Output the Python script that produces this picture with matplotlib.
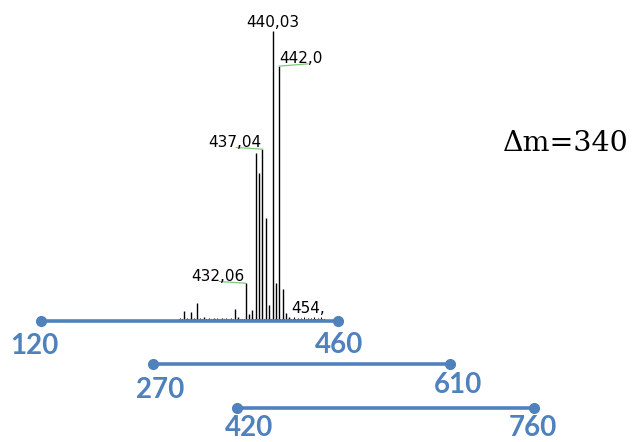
import matplotlib
matplotlib.use("Agg")
import matplotlib.pyplot as plt

# ---------------- data ----------------
# mass spectrum (m/z, relative intensity %)
peak_mz = [413.6, 415.7, 417.6, 419.7, 424.8, 428.8, 429.8,
           432, 433, 434, 435, 436, 437, 438, 439, 440, 441, 442, 443, 444, 445]
peak_int = [2.8, 2.3, 5.7, 0.8, 0.5, 3.4, 0.8,
            12.4, 1.7, 3.0, 57.7, 50.5, 58.9, 35.2, 4.8, 100, 12.4, 87.7, 10.5, 2.1, 0.8]
noise_mz = [412.5, 414.5, 416.5, 418.5, 421.0, 422.5, 423.5, 426.0, 427.5,
            446.5, 447.5, 448.5, 449.5, 450.5, 451.5, 452.5, 453.5, 454.5]
noise_int = [0.4, 0.5, 0.4, 0.5, 0.4, 0.5, 0.4, 0.5, 0.4,
             0.6, 0.5, 0.4, 0.6, 0.5, 0.4, 0.6, 0.5, 0.6]

label_mz = [432, 437, 440, 442, 454]
label_text = ["432,06", "437,04", "440,03", "442,0", "454,"]

# mass ranges (scan windows)
range_lo = [120, 270, 420]
range_hi = [460, 610, 760]
delta_text = "\u0394m=340"

# ---------------- layout ----------------
W, H = 635, 442
BLUE = "#4F81BD"
GREEN = "#7CCB7C"

fig = plt.figure(figsize=(W / 100, H / 100), dpi=100)

# spectrum axes (pixel window 178..326 horizontally, 0..322 vertically)
px_per_mz = 3.35
mz_at_px = lambda px: 432 + (px - 245.7) / px_per_mz
px_per_int = 2.883
ax_s = fig.add_axes([178 / W, (H - 322) / H, 148 / W, 322 / H])
ax_s.set_xlim(mz_at_px(178), mz_at_px(326))
ax_s.set_ylim(-3 / px_per_int, 319 / px_per_int)
ax_s.axis("off")

ax_s.vlines(peak_mz, 0, peak_int, color="black", linewidth=1.0)
ax_s.vlines(noise_mz, 0, noise_int, color="black", linewidth=0.7)
ax_s.plot([mz_at_px(179), mz_at_px(325)], [0, 0], color="black", linewidth=0.8,
          linestyle=(0, (1, 1)))

lab_int = {m: i for m, i in zip(peak_mz, peak_int)}
fs_lab = 11
for mz, txt in zip(label_mz, label_text):
    top = lab_int.get(mz, 0.8)
    if mz in (432, 437):
        ax_s.plot([mz - 7.8, mz], [top + 0.6, top], color=GREEN, linewidth=0.9)
        ax_s.text(mz - 0.25, top + 0.9, txt, ha="right", va="baseline",
                  fontsize=fs_lab, family="DejaVu Sans")
    elif mz == 440:
        ax_s.text(mz, top + 1.4, txt, ha="center", va="baseline",
                  fontsize=fs_lab, family="DejaVu Sans")
    elif mz == 442:
        ax_s.plot([mz, mz + 8.6], [top, top + 0.8], color=GREEN, linewidth=0.9)
        ax_s.text(mz + 0.05, top + 1.2, txt, ha="left", va="baseline",
                  fontsize=fs_lab, family="DejaVu Sans", clip_on=True)
    else:
        ax_s.text(mz - 8.3, 2.2, txt, ha="left", va="baseline",
                  fontsize=fs_lab, family="DejaVu Sans", clip_on=True)

# overlay axes in pixel coordinates for the range bars
ax = fig.add_axes([0, 0, 1, 1])
ax.set_xlim(0, W)
ax.set_ylim(H, 0)
ax.axis("off")
ax.patch.set_alpha(0)

bar_px_per_da = 0.874
bar_left_px = [40.7, 153.3, 236.7]
bar_y_px = [321, 363.5, 408.3]
lo_lab_pos = [(34.2, 354.3), (160.0, 397.7), (249.0, 436.0)]
hi_lab_pos = [(338.7, 353.3), (458.0, 393.0), (533.0, 436.0)]

for lo, hi, x0, y, lp, hp in zip(range_lo, range_hi, bar_left_px, bar_y_px,
                                 lo_lab_pos, hi_lab_pos):
    x1 = x0 + (hi - lo) * bar_px_per_da
    ax.plot([x0, x1], [y, y], color=BLUE, linewidth=2.6, marker="o",
            markersize=7, solid_capstyle="butt")
    ax.text(lp[0], lp[1], str(lo), ha="center", va="baseline", color=BLUE,
            fontsize=20, fontweight="bold", family="Lato")
    ax.text(hp[0], hp[1], str(hi), ha="center", va="baseline", color=BLUE,
            fontsize=20, fontweight="bold", family="Lato")

ax.text(503, 150.7, delta_text, ha="left", va="baseline", fontsize=20.5,
        family="DejaVu Serif", color="black")

fig.savefig("out.png", dpi=100)
